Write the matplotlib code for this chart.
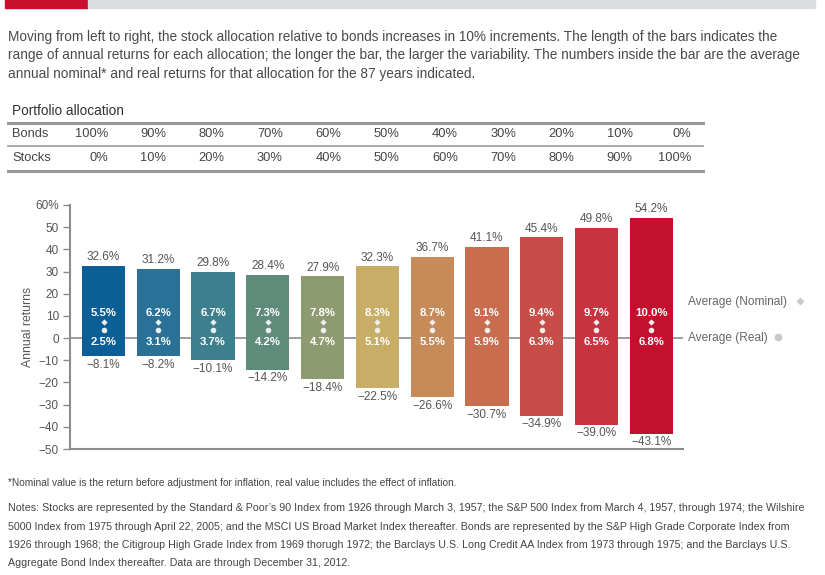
import matplotlib.pyplot as plt
from matplotlib.patches import Rectangle

# data
bonds = ["100%", "90%", "80%", "70%", "60%", "50%", "40%", "30%", "20%", "10%", "0%"]
stocks = ["0%", "10%", "20%", "30%", "40%", "50%", "60%", "70%", "80%", "90%", "100%"]
best = [32.6, 31.2, 29.8, 28.4, 27.9, 32.3, 36.7, 41.1, 45.4, 49.8, 54.2]
worst = [-8.1, -8.2, -10.1, -14.2, -18.4, -22.5, -26.6, -30.7, -34.9, -39.0, -43.1]
nominal = [5.5, 6.2, 6.7, 7.3, 7.8, 8.3, 8.7, 9.1, 9.4, 9.7, 10.0]
real = [2.5, 3.1, 3.7, 4.2, 4.7, 5.1, 5.5, 5.9, 6.3, 6.5, 6.8]
colors = ["#0b5e96", "#2a7198", "#3d7f8c", "#5f8b7b", "#8e9b70", "#c7ad66",
          "#c68b58", "#c96d4f", "#c84d48", "#c8333f", "#c4102f"]
yticks = [60, 50, 40, 30, 20, 10, 0, -10, -20, -30, -40, -50]

W, H = 825, 575
fig = plt.figure(figsize=(W / 100, H / 100), dpi=100)
plt.rcParams['font.family'] = ['Liberation Sans', 'DejaVu Sans']
narrow = ['Liberation Sans Narrow', 'Liberation Sans', 'DejaVu Sans']


def px(x, y):
    return x / W, 1 - y / H


# header banner
fig.patches.append(Rectangle(px(5, 8), 83 / W, 8 / H, transform=fig.transFigure,
                             color="#c8102e", zorder=0))
fig.patches.append(Rectangle(px(88, 8), 727 / W, 8 / H, transform=fig.transFigure,
                             color="#dcdde0", zorder=0))

intro = ["Moving from left to right, the stock allocation relative to bonds increases in 10% increments. The length of the bars indicates the",
         "range of annual returns for each allocation; the longer the bar, the larger the variability. The numbers inside the bar are the average",
         "annual nominal* and real returns for that allocation for the 87 years indicated."]
for i, line in enumerate(intro):
    fig.text(*px(8, 37 + i * 18.5), line, fontsize=9.8, color="#4a4a4a", va="center")

# allocation table
fig.text(*px(12, 111), "Portfolio allocation", fontsize=9.8, color="#333333", va="center")
for y, lw in [(123, 2.2), (146, 1.2), (171, 2.2)]:
    fig.add_artist(plt.Line2D([8 / W, 703 / W], [1 - y / H] * 2, color="#999999", lw=lw))
fig.text(*px(12, 134), "Bonds", fontsize=9.3, color="#444444", va="center")
fig.text(*px(12, 158), "Stocks", fontsize=9.3, color="#444444", va="center")
for i in range(len(bonds)):
    xr = 108 + i * 58.3
    fig.text(*px(xr, 134), bonds[i], fontsize=9.3, color="#444444", va="center", ha="right")
    fig.text(*px(xr, 158), stocks[i], fontsize=9.3, color="#444444", va="center", ha="right")

# chart
ax = fig.add_axes([70 / W, (575 - 449) / H, 613 / W, 244 / H])
x = list(range(len(best)))
ax.axhline(0, color="#8c8c8c", lw=1.2, zorder=1)
ax.bar(x, [b - w for b, w in zip(best, worst)], bottom=worst, width=0.79,
       color=colors, zorder=2)
for i in x:
    ax.text(i, best[i] + 1.2, f"{best[i]:.1f}%", ha="center", va="bottom",
            fontsize=8.5, color="#555555")
    ax.text(i, worst[i] - 1.2, f"\u2212{abs(worst[i]):.1f}%", ha="center", va="top",
            fontsize=8.5, color="#555555")
    ax.text(i, 11.5, f"{nominal[i]:.1f}%", ha="center", va="center",
            fontsize=8.2, color="white", fontweight="bold", zorder=3)
    ax.text(i, -1.8, f"{real[i]:.1f}%", ha="center", va="center",
            fontsize=8.2, color="white", fontweight="bold", zorder=3)
    ax.plot(i, 7.3, marker="D", ms=3.2, color="#eeeeee", mec="none", zorder=3)
    ax.plot(i, 3.8, marker="o", ms=4, color="#eeeeee", mec="none", zorder=3)

ax.set_xlim(-0.612, 10.58)
ax.set_ylim(-50, 60)
ax.set_yticks(yticks)
ax.set_yticklabels(["60%"] + [str(t).replace("-", "\u2212") for t in yticks[1:]])
ax.set_xticks([])
ax.tick_params(axis="y", length=5, width=1, color="#8c8c8c", labelsize=8.5,
               labelcolor="#555555", pad=3)
for s in ["top", "right"]:
    ax.spines[s].set_visible(False)
for s in ["left", "bottom"]:
    ax.spines[s].set_color("#8c8c8c")
    ax.spines[s].set_linewidth(1.5)
ax.set_ylabel("Annual returns", fontsize=8.8, color="#555555", labelpad=1)

# legend labels on the right
fig.text(*px(688, 302), "Average (Nominal)", fontsize=8.6, color="#666666", va="center")
fig.text(*px(688, 338), "Average (Real)", fontsize=8.6, color="#666666", va="center")
fig.add_artist(plt.Line2D([800 / W], [1 - 301 / H], marker="D", ms=4.5,
                          color="#c8c8c8", mec="none"))
fig.add_artist(plt.Line2D([778 / W], [1 - 337 / H], marker="o", ms=5.5,
                          color="#c8c8c8", mec="none"))

# footnotes
fig.text(*px(8, 483), "*Nominal value is the return before adjustment for inflation, real value includes the effect of inflation.",
         fontsize=7.3, color="#444444", va="center", family=narrow)
notes = ["Notes: Stocks are represented by the Standard & Poor\u2019s 90 Index from 1926 through March 3, 1957; the S&P 500 Index from March 4, 1957, through 1974; the Wilshire",
         "5000 Index from 1975 through April 22, 2005; and the MSCI US Broad Market Index thereafter. Bonds are represented by the S&P High Grade Corporate Index from",
         "1926 through 1968; the Citigroup High Grade Index from 1969 thorugh 1972; the Barclays U.S. Long Credit AA Index from 1973 through 1975; and the Barclays U.S.",
         "Aggregate Bond Index thereafter. Data are through December 31, 2012."]
for i, line in enumerate(notes):
    fig.text(*px(8, 508 + i * 18.5), line, fontsize=7.7, color="#444444", va="center",
             family=narrow)

fig.savefig("out.png", dpi=100, facecolor="white")
